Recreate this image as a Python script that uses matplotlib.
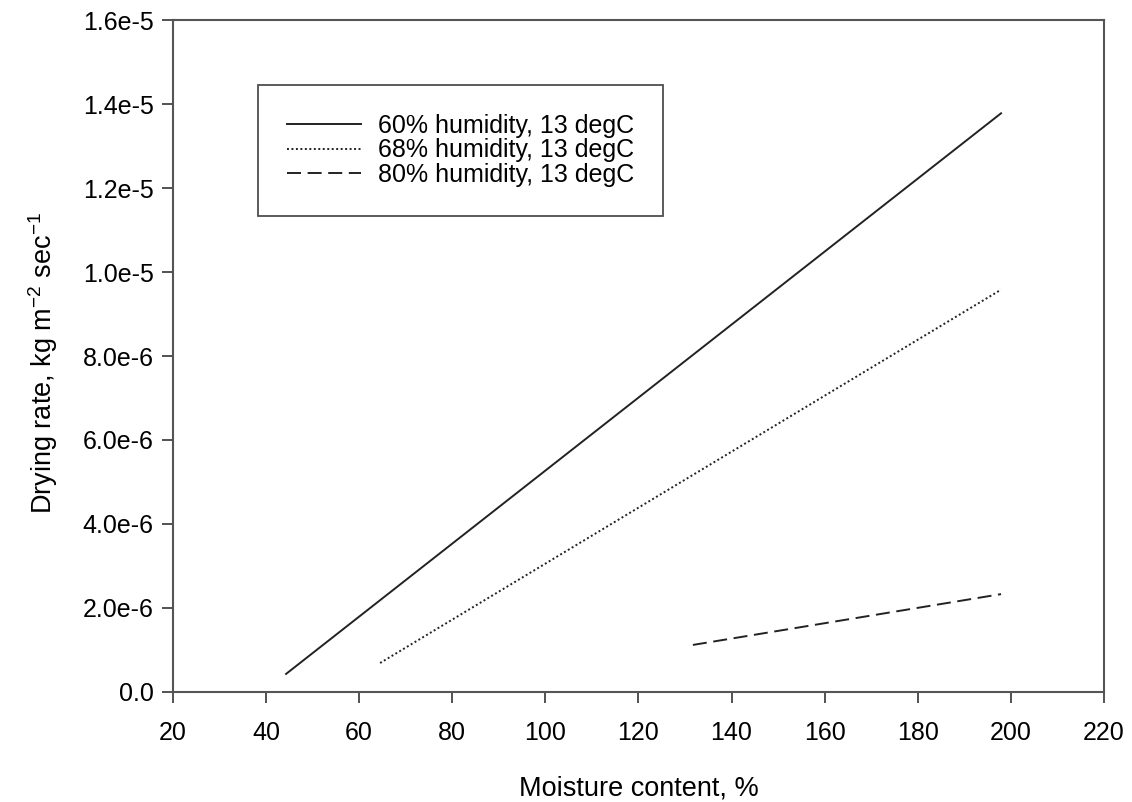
import matplotlib
matplotlib.use("Agg")
import matplotlib.pyplot as plt
from matplotlib.ticker import FixedLocator, FixedFormatter

plt.rcParams['font.family'] = ['Liberation Sans', 'DejaVu Sans']
plt.rcParams['mathtext.fontset'] = 'custom'
plt.rcParams['mathtext.rm'] = 'Liberation Sans'

labels = ["60% humidity, 13 degC", "68% humidity, 13 degC", "80% humidity, 13 degC"]
x_60 = [44.3, 197.9]
y_60 = [0.43e-6, 1.378e-5]
x_68 = [64.5, 197.9]
y_68 = [0.69e-6, 9.58e-6]
x_80 = [131.7, 197.9]
y_80 = [1.12e-6, 2.33e-6]

xticks = list(range(20, 221, 20))
yticks = [0, 2e-6, 4e-6, 6e-6, 8e-6, 1e-5, 1.2e-5, 1.4e-5, 1.6e-5]
ytick_labels = ["0.0", "2.0e-6", "4.0e-6", "6.0e-6", "8.0e-6", "1.0e-5", "1.2e-5", "1.4e-5", "1.6e-5"]

fig = plt.figure(figsize=(11.32, 8.02), dpi=100)
ax = fig.add_axes([0.1528, 0.1372, 0.8224, 0.8378])

lc = '#222222'
ax.plot(x_60, y_60, color=lc, lw=1.4, linestyle='-', label=labels[0])
ax.plot(x_68, y_68, color=lc, lw=1.4, linestyle=(0, (1, 1.3)), label=labels[1])
ax.plot(x_80, y_80, color=lc, lw=1.4, linestyle=(0, (7.2, 3.4)), label=labels[2])

ax.set_xlim(20, 220)
ax.set_ylim(0, 1.6e-5)
ax.xaxis.set_major_locator(FixedLocator(xticks))
ax.yaxis.set_major_locator(FixedLocator(yticks))
ax.yaxis.set_major_formatter(FixedFormatter(ytick_labels))
ax.tick_params(direction='out', length=8, width=1.3, color='#444444', labelsize=18,
               top=False, right=False)
ax.tick_params(axis='y', pad=6)
ax.tick_params(axis='x', pad=13)
for s in ax.spines.values():
    s.set_color('#555555')
    s.set_linewidth(1.5)

ax.set_xlabel("Moisture content, %", fontsize=19.5, labelpad=22)
ax.set_ylabel(r"Drying rate, kg m$^{\mathregular{-2}}$ sec$^{\mathregular{-1}}$", fontsize=19.5)
ax.yaxis.set_label_coords(-0.121, 0.49)

leg = ax.legend(loc='upper left', bbox_to_anchor=(0.0913, 0.903), fontsize=18,
                handlelength=2.96, handletextpad=0.68, frameon=True, fancybox=False,
                borderpad=1.15, labelspacing=0.02, borderaxespad=0)
leg.get_frame().set_edgecolor('#222222')
leg.get_frame().set_linewidth(1.3)

fig.savefig("out.png", dpi=100)
